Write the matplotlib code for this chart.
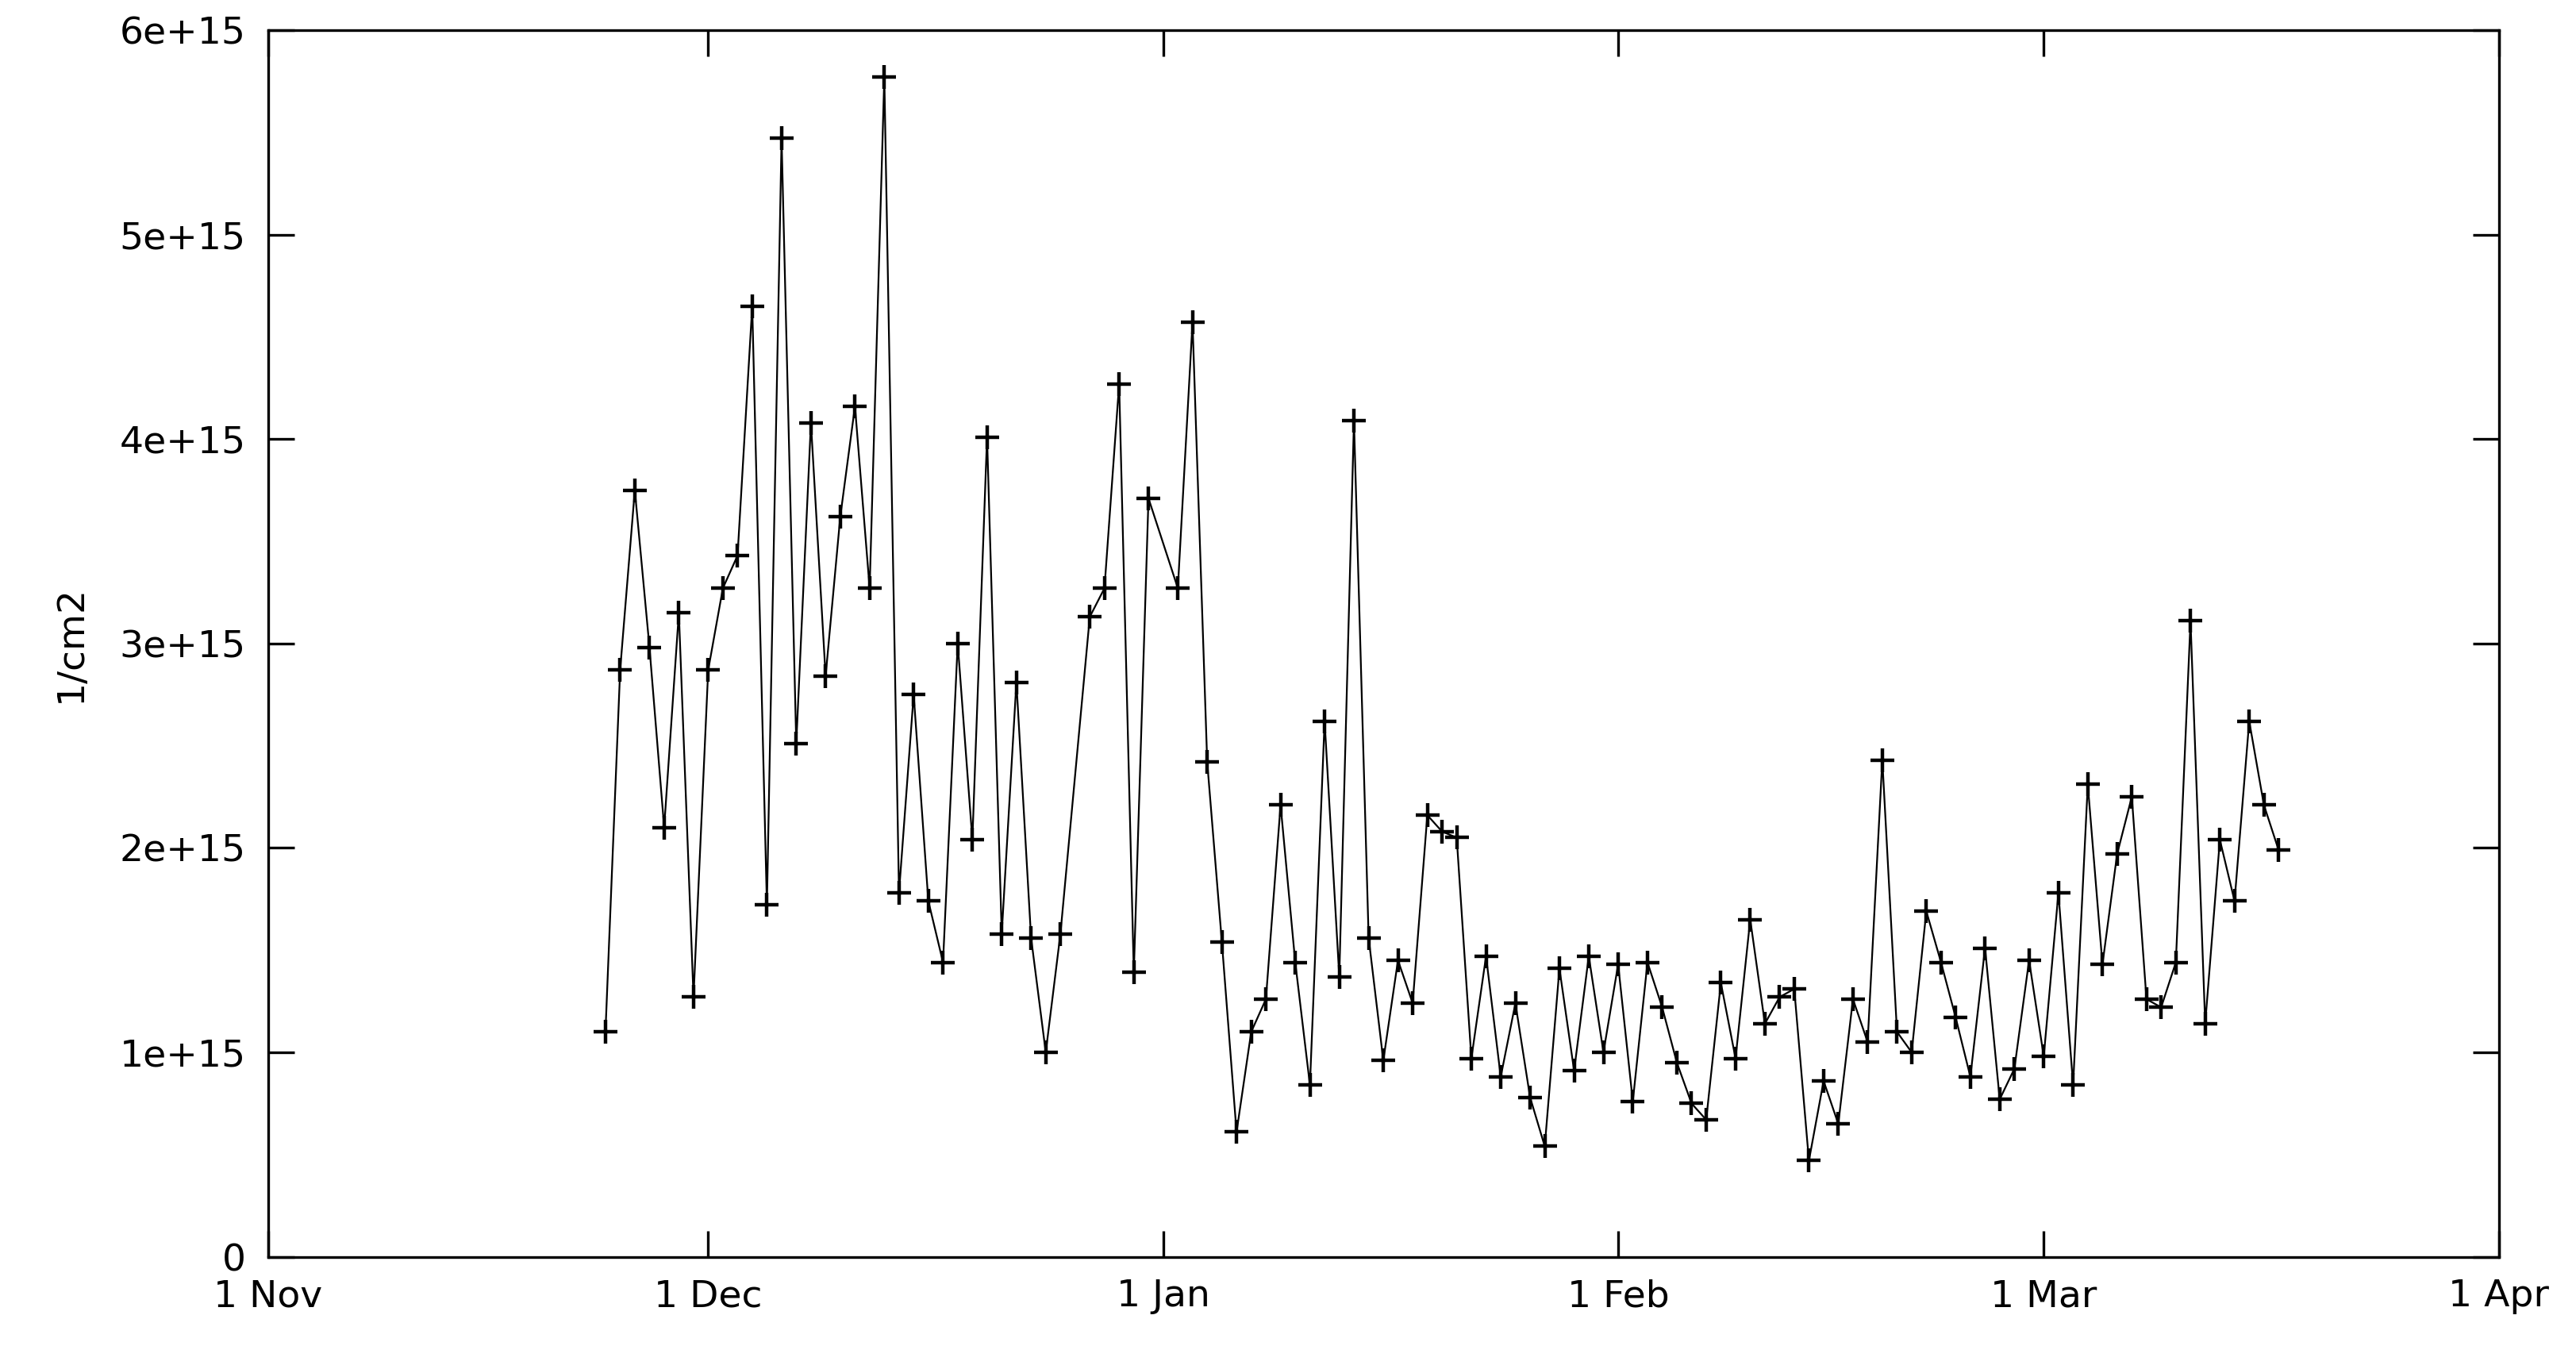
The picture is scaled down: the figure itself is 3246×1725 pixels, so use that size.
import numpy as np
import matplotlib
matplotlib.use("Agg")
import matplotlib.pyplot as plt
import matplotlib.dates as mdates

# jours depuis le 1 Nov 2015 et valeurs (en 1e15 /cm2)
jours = [23, 24, 25, 26, 27, 28, 29, 30, 31, 32, 33, 34, 35, 36, 37, 38, 39, 40, 41, 42,
         43, 44, 45, 46, 47, 48, 49, 50, 51, 52, 53, 54, 56, 57, 58, 59, 60, 62, 63, 64,
         65, 66, 67, 68, 69, 70, 71, 72, 73, 74, 75, 76, 77, 78, 79, 80, 81, 82, 83, 84,
         85, 86, 87, 88, 89, 90, 91, 92, 93, 94, 95, 96, 97, 98, 99, 100, 101, 102, 103, 104,
         105, 106, 107, 108, 109, 110, 111, 112, 113, 114, 115, 116, 117, 118, 119, 120, 121, 122, 123, 124,
         125, 126, 127, 128, 129, 130, 131, 132, 133, 134, 135, 136, 137]
valeurs = [1.10, 2.87, 3.75, 2.98, 2.10, 3.15, 1.27, 2.87, 3.27, 3.43, 4.65, 1.72, 5.47, 2.51, 4.08, 2.84, 3.62, 4.16, 3.27, 5.77,
           1.78, 2.75, 1.74, 1.44, 3.00, 2.04, 4.01, 1.58, 2.81, 1.56, 1.00, 1.58, 3.13, 3.27, 4.27, 1.39, 3.71, 3.27, 4.57, 2.42,
           1.54, 0.61, 1.10, 1.26, 2.21, 1.44, 0.84, 2.62, 1.37, 4.09, 1.56, 0.96, 1.45, 1.24, 2.16, 2.08, 2.05, 0.97, 1.47, 0.88,
           1.24, 0.78, 0.54, 1.41, 0.91, 1.47, 1.00, 1.43, 0.76, 1.44, 1.22, 0.95, 0.75, 0.67, 1.34, 0.97, 1.65, 1.14, 1.27, 1.31,
           0.47, 0.86, 0.65, 1.26, 1.05, 2.43, 1.10, 1.00, 1.69, 1.44, 1.17, 0.88, 1.51, 0.77, 0.92, 1.45, 0.98, 1.78, 0.84, 2.31,
           1.43, 1.97, 2.25, 1.26, 1.22, 1.44, 3.11, 1.14, 2.04, 1.74, 2.62, 2.21, 1.99]

dates = np.datetime64("2015-11-01") + np.array(jours).astype("timedelta64[D]")
y = np.array(valeurs) * 1e15

fig = plt.figure(figsize=(16.23, 8.625), dpi=200)
ax = fig.add_axes([0.104, 0.082, 0.866, 0.896])
ax.plot(dates, y, color="black", lw=0.8, marker="+", ms=11, mew=1.6)

ax.set_xlim(np.datetime64("2015-11-01"), np.datetime64("2016-04-01"))
ax.set_ylim(0, 6e15)
ax.xaxis.set_major_locator(mdates.MonthLocator())
ax.xaxis.set_major_formatter(mdates.DateFormatter("%-d %b"))
ax.set_yticks(np.arange(0, 7) * 1e15)
ax.set_yticklabels(["0"] + ["%de+15" % i for i in range(1, 7)])
ax.tick_params(direction="in", top=True, right=True, length=12, width=1.2, labelsize=17, pad=10)
for s in ax.spines.values():
    s.set_linewidth(1.2)
ax.set_ylabel("1/cm2", fontsize=17, labelpad=14)

fig.savefig("out.png")
